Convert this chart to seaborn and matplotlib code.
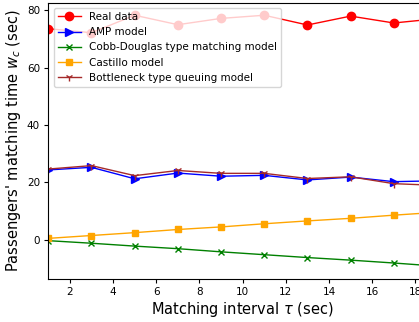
import matplotlib
matplotlib.use("Agg")
import matplotlib.pyplot as plt
import seaborn as sns
import pandas as pd

tau = [1, 3, 5, 7, 9, 11, 13, 15, 17, 19]
real_data = [73.6, 72.2, 78.3, 75.0, 77.2, 78.3, 74.9, 78.0, 75.6, 77.1]
amp_model = [24.3, 25.2, 21.2, 23.2, 22.1, 22.4, 20.8, 21.8, 20.2, 20.5]
cobb_douglas = [-0.4, -1.3, -2.3, -3.2, -4.3, -5.3, -6.3, -7.2, -8.2, -9.3]
castillo = [0.4, 1.4, 2.4, 3.5, 4.4, 5.5, 6.5, 7.4, 8.5, 9.5]
bottleneck = [24.6, 25.8, 22.3, 24.1, 23.1, 23.1, 21.3, 21.9, 19.5, 18.9]

series = [
    ("Real data", real_data, "red", "o", 6),
    ("AMP model", amp_model, "blue", ">", 5.5),
    ("Cobb-Douglas type matching model", cobb_douglas, "green", "x", 5),
    ("Castillo model", castillo, "orange", "s", 4.5),
    ("Bottleneck type queuing model", bottleneck, "brown", "1", 6),
]

fig = plt.figure(figsize=(4.19, 3.22), dpi=100)
ax = fig.add_axes([48.3 / 419, (322 - 278.7) / 322, (437 - 48.3) / 419, (278.7 - 2.7) / 322])

for label, vals, color, marker, msize in series:
    df = pd.DataFrame({"tau": tau, "w": vals})
    sns.lineplot(data=df, x="tau", y="w", ax=ax, color=color, marker=marker,
                 label=label, markeredgecolor=color, markeredgewidth=1.0,
                 markersize=msize, linewidth=1.0)

ax.set_xlim(1, 19)
ax.set_xticks([2, 4, 6, 8, 10, 12, 14, 16, 18])
ax.set_yticks([0, 20, 40, 60, 80])
ax.set_xlabel(r"Matching interval $\tau$ (sec)", fontsize=10.5, labelpad=2)
ax.set_ylabel(r"Passengers' matching time $w_c$ (sec)", fontsize=10.5, labelpad=3)
ax.tick_params(labelsize=7.5, length=3, pad=3)
ax.legend(loc="upper left", fontsize=7.5, labelspacing=0.5, handlelength=2.2)

fig.savefig("out.png", dpi=100)
